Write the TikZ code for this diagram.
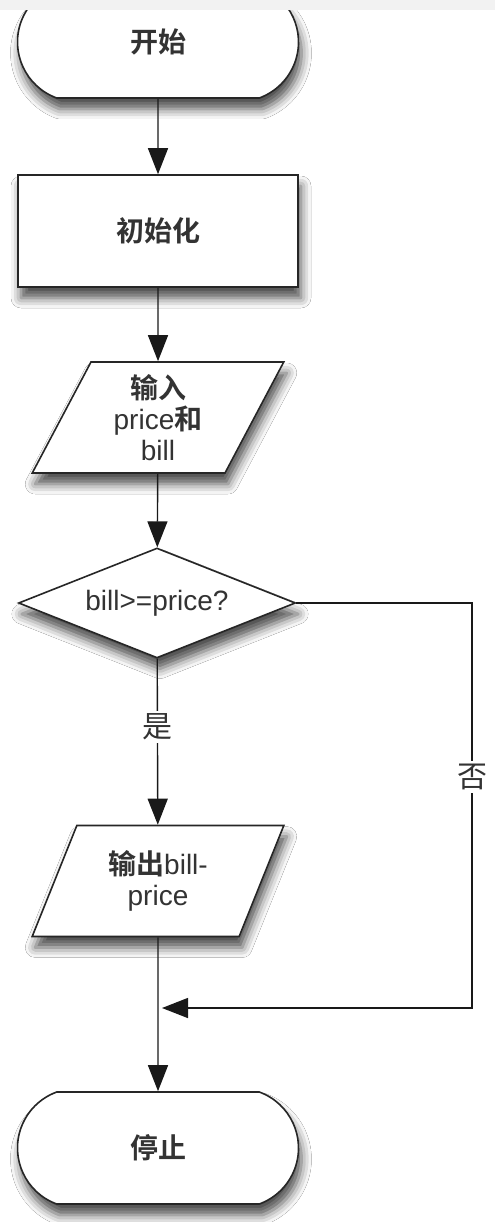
\documentclass[tikz,border=0pt]{standalone}
\usepackage{fontspec}
\setmainfont{Liberation Sans}
\newfontfamily\cjk{Noto Sans CJK SC}[BoldFont={Noto Sans CJK SC Bold}]
\usetikzlibrary{shapes.geometric,shapes.misc,arrows.meta,shadows.blur}
\begin{document}
\begin{tikzpicture}[x=1pt,y=-1pt,
  every node/.style={font=\fontsize{28}{31}\selectfont, text=black!80},
  shade/.style={blur shadow={shadow xshift=3pt, shadow yshift=-11pt, shadow blur radius=10pt, shadow opacity=70}},
  shapeline/.style={draw=black!85, line width=1.6pt, fill=white, inner sep=0pt, shade},
  term/.style={shapeline, rounded rectangle, rounded rectangle arc length=140, minimum width=281pt, minimum height=112pt},
  proc/.style={shapeline, rectangle, minimum width=280pt, minimum height=112pt},
  io/.style={shapeline, trapezium, trapezium left angle=65.75, trapezium right angle=114.25, trapezium stretches=true, minimum width=252pt, minimum height=111pt, align=center},
  decision/.style={shapeline, diamond, shape aspect=2.52, minimum width=277pt, minimum height=110pt},
  flow/.style={draw=black!90, line width=1.4pt, -{Triangle[width=20pt,length=26pt]}},
  lbl/.style={fill=white, inner sep=3pt, font=\cjk\fontsize{30}{32}\selectfont},
  zh/.style={font=\cjk\bfseries\fontsize{28}{31}\selectfont}
]
\useasboundingbox (0,0) rectangle (495,1222);
\fill[white] (0,0) rectangle (495,1222);

\node[term, zh] (start) at (158,42) {开始};
\node[proc, zh] (init) at (158,231) {初始化};
\node[io] (in) at (158,417.5) {{\cjk\bfseries 输入}\\price{\cjk\bfseries 和}\\bill};
\node[decision] (dec) at (157,603) {bill>=price?};
\node[io] (out) at (158,881) {{\cjk\bfseries 输出}bill-\\price};
\node[term, zh] (stop) at (158,1148) {停止};

\coordinate (corner) at (472,603);
\coordinate (merge) at (158,1008);

\draw[flow] (start) -- (init);
\draw[flow] (init) -- (in);
\draw[flow] (in) -- (dec);
\draw[flow] (dec) -- node[lbl, pos=0.41] (yes) {是} (out);
\draw[flow] (out) -- (stop);
\draw[flow, shorten >=4pt] (dec.east) -- (corner) -- node[lbl, pos=0.43] (no) {否} (corner |- merge) -- (merge);

\fill[black!5] (0,0) rectangle (495,10);
\end{tikzpicture}
\end{document}
